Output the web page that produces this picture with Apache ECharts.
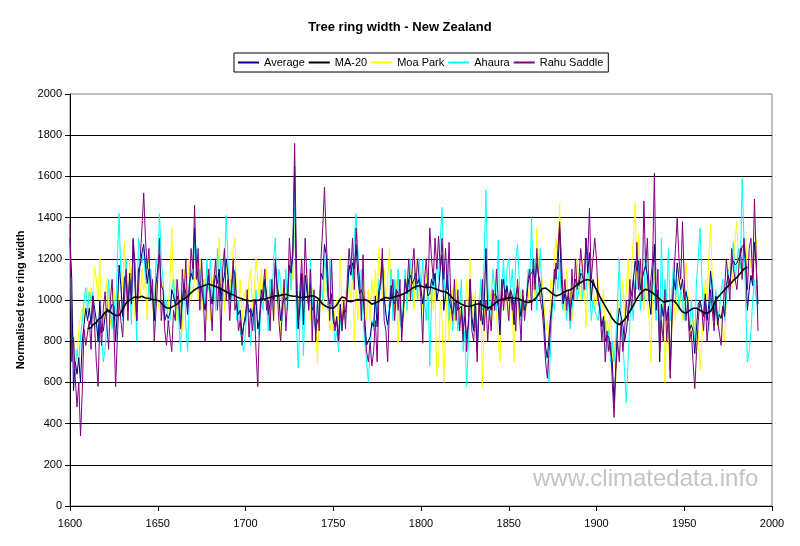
<!DOCTYPE html>
<html><head><meta charset="utf-8">
<script src="https://cdn.jsdelivr.net/npm/echarts@6/dist/echarts.min.js"></script>
<style>html,body{margin:0;padding:0;background:#fff}#c{width:800px;height:546px}</style>
</head><body><div id="c"></div>
<script>
// ---- data ----
const firstYear = 1600;      // first year of the annual series
const maFirstYear = 1610;    // first year of the 20-year moving average
const seriesNames = ['Average', 'MA-20', 'Moa Park', 'Ahaura', 'Rahu Saddle'];
const xTickLabels = [1600, 1650, 1700, 1750, 1800, 1850, 1900, 1950, 2000];
const yTickLabels = [0, 200, 400, 600, 800, 1000, 1200, 1400, 1600, 1800, 2000];

const average = [
1300,1100,560,700,640,720,600,800,880,960,
900,960,880,1020,960,900,800,1000,840,850,
920,960,940,950,980,970,800,960,1170,1070,
920,1110,1120,950,1130,980,1290,1080,900,1150,
1170,1230,1270,1170,1080,1150,1070,1030,900,1080,
1080,1220,1070,1050,900,930,910,940,1050,1020,
980,1020,980,870,1000,1080,1030,930,1080,1130,
1100,1350,1170,1100,1100,1050,1050,950,1050,1120,
1030,980,1070,1120,1080,1150,1000,1080,1120,1200,
1120,1000,1050,1150,1130,970,930,950,830,880,
930,1000,940,960,920,970,1000,860,910,1050,
1000,1100,1030,930,980,1050,1000,1180,1070,1020,
900,970,1020,1000,1020,1170,1130,1220,1650,1050,
860,970,1130,880,1120,1120,970,1080,950,970,
850,900,920,1130,1100,1270,1220,1020,980,1030,
900,870,920,800,980,880,950,940,1030,1170,
1120,1180,1150,1270,1120,1030,1050,1020,900,780,
780,820,890,870,1020,870,1050,1080,1200,1020,
930,880,950,1070,1000,980,1050,1030,1020,870,
950,1100,1030,1100,1120,1080,1100,1130,1080,1100,
1050,980,1050,1080,1020,1030,1100,1070,1130,1000,
1050,1150,1220,950,1030,1120,1000,1000,930,980,
1000,950,950,970,850,920,810,880,1100,920,
850,1000,750,950,1000,880,980,1250,950,970,
950,1030,1030,1020,970,830,1050,1100,1000,1070,
1000,1050,1020,880,1020,1070,980,920,1020,950,
980,1080,1120,1130,1150,1080,1180,1120,1080,1020,
920,770,720,720,930,1020,1100,1180,1150,1350,
1100,980,1030,1000,1020,940,1000,1050,1100,1080,
1070,1130,1120,1080,1300,1130,1230,1000,1100,1070,
1050,1000,950,870,920,800,830,820,820,700,
500,680,880,960,920,880,800,850,930,1000,
1030,1100,1190,1140,1190,1050,1100,1140,1170,1120,
1000,930,1130,1270,950,1050,700,980,920,980,
900,970,660,930,1100,1050,1180,1100,1050,1100,
1000,1040,1000,850,880,850,740,870,980,1000,
950,920,1030,900,980,1140,1050,900,1020,880,
930,910,970,920,1070,1120,1080,1170,1190,1170,
1180,1180,1220,1260,1270,1170,950,1050,1120,1070,1280,1170,980
];

const ma20 = [
860,855,865,880,875,890,905,900,915,930,
940,945,950,945,935,930,925,920,925,940,
955,970,985,995,1000,1005,1010,1015,1010,1012,
1015,1018,1012,1010,1010,1008,1005,1002,1000,1000,
1000,995,985,975,968,962,958,960,965,970,
975,980,988,995,1000,1005,1010,1018,1025,1035,
1042,1050,1055,1060,1062,1065,1068,1072,1075,1078,
1075,1072,1068,1065,1060,1058,1055,1050,1045,1040,
1035,1030,1028,1025,1020,1015,1010,1008,1005,1002,
1000,998,1000,995,998,1000,1002,998,1000,1003,
1000,1005,1008,1010,1012,1015,1018,1020,1022,1020,
1020,1025,1030,1028,1025,1022,1020,1018,1015,1018,
1015,1012,1010,1012,1010,1015,1018,1020,1022,1020,
1018,1010,1000,990,980,975,968,965,962,960,
960,965,975,990,1005,1015,1020,1010,995,990,
992,995,998,1000,1002,1000,998,1000,1002,1000,
995,988,980,982,985,990,995,1000,1005,1010,
1012,1010,1008,1010,1012,1015,1018,1020,1022,1025,
1030,1035,1040,1045,1050,1058,1062,1065,1068,1070,
1068,1065,1062,1060,1062,1065,1062,1058,1055,1050,
1048,1045,1042,1040,1040,1035,1028,1020,1010,1000,
995,990,985,980,975,972,970,968,970,972,
975,978,980,982,980,975,970,965,960,962,
968,975,982,990,995,1000,1002,1005,1005,1008,
1010,1012,1010,1008,1010,1008,1005,1000,995,992,
990,988,990,992,998,1005,1015,1030,1045,1055,
1060,1058,1052,1045,1038,1030,1025,1020,1022,1025,
1030,1035,1040,1045,1048,1050,1055,1060,1068,1075,
1080,1085,1090,1095,1098,1100,1098,1092,1080,1065,
1050,1035,1015,1000,985,970,955,940,925,910,
900,890,882,880,885,895,905,915,930,945,
960,975,990,1005,1020,1032,1042,1050,1052,1048,
1045,1040,1035,1028,1020,1012,1005,998,992,990,
992,995,998,1000,998,990,978,965,952,942,
938,936,940,948,955,960,962,960,955,950,
945,940,938,936,938,945,960,980,1000,1012,
1020,1030,1040,1050,1060,1068,1075,1085,1095,1102,
1110,1120,1130,1140,1150,1155,1160
];

const moaPark = [
1200,1000,820,760,700,860,920,960,900,1000,
1060,940,1060,1000,1160,1100,1000,1200,900,880,
960,1100,980,880,1000,1060,940,860,1100,1200,
1050,1280,1000,950,1200,1060,1150,920,1000,1100,
1000,1150,1050,1100,900,1200,1050,950,1000,1100,
1000,950,1100,1050,900,1000,950,1100,1350,1000,
1100,900,1050,1000,850,1150,1000,1100,1200,1000,
1050,1100,1150,1000,1200,950,1050,1100,900,1150,
900,1100,1000,1200,1050,1300,1000,1100,950,1200,
1050,1150,1000,1250,1300,1000,950,1100,900,1000,
1050,950,1100,1150,950,1050,1200,1100,1000,1150,
1000,1050,1150,950,1000,1100,900,1050,1150,1000,
800,1050,950,1000,1100,1000,1200,1100,1400,1050,
1000,950,1100,900,1050,1150,1000,900,1050,950,
900,690,1000,1100,950,1050,1200,1000,850,900,
850,950,1000,900,1200,950,900,1050,1000,1100,
1000,1150,800,1050,900,1000,1100,950,1050,900,
1050,900,1100,1000,1150,950,1250,1100,1000,1150,
1000,1100,1250,1050,1000,950,1100,790,1050,950,
900,1050,1100,1000,1150,1100,950,1200,1050,1000,
1100,950,1050,1150,900,1000,1100,950,1050,630,
700,1000,900,600,850,1100,800,950,1050,900,
1100,950,1050,850,1000,900,1100,950,1200,1000,
900,1050,800,950,1000,580,900,1200,950,1050,
1000,900,1100,950,800,700,1000,1150,950,1050,
900,1050,950,700,1000,1100,900,1050,950,1000,
950,1000,1100,1050,1200,1000,1350,1150,1000,1100,
1000,850,900,800,1100,1050,1200,1300,1150,1470,
1100,1000,950,1150,1000,1050,900,1100,1000,1200,
1050,1000,1200,1100,870,1050,1150,1000,1100,950,
1000,1100,900,950,1050,800,900,850,950,700,
800,600,850,1000,950,1100,900,1050,1200,1000,
1150,1300,1470,1100,1320,1000,1200,950,1100,1000,
900,700,1050,1150,950,1000,800,950,1000,600,
900,800,620,850,1000,900,1050,1150,1000,900,
1000,1180,1050,900,800,950,850,750,850,660,
800,950,1100,1000,1200,1370,1100,900,1000,850,
950,900,850,800,1000,1100,1200,1050,1150,1300,
1380,1150,1250,1100,1200,1300,1100,1150,1200,1100,1250,1300,1150
];

const ahaura = [
1180,900,780,680,760,700,820,900,1000,1060,
940,1040,1000,1040,860,900,800,940,820,700,
760,900,1100,980,860,1000,900,1200,1420,1100,
900,1050,1200,1000,1100,880,1250,1150,800,1300,
1300,1180,1250,1100,1200,1000,1150,1050,900,1200,
1150,1420,1200,1100,950,1000,880,900,1050,1100,
950,1050,900,750,1000,1100,880,750,1000,1150,
1100,1300,1250,1050,1150,1000,1100,950,1200,1050,
1200,1000,1100,950,1250,1050,1200,1000,1150,1410,
1200,950,1100,1000,1150,900,1000,850,800,750,
850,1000,900,780,950,850,1050,900,820,1000,
950,1100,1000,850,1100,950,1200,1300,1000,1150,
1100,900,1000,1150,950,1200,1050,1300,1450,900,
670,900,1100,730,1000,1100,950,1200,1000,900,
850,1000,900,1100,1000,1200,1150,950,1200,1000,
900,800,850,750,900,850,950,900,1000,1150,
1200,1100,1300,1420,1250,1000,1150,900,800,700,
600,750,900,850,1000,950,1100,1050,1150,1000,
950,850,1000,1150,900,1100,1000,1150,900,850,
1000,1150,950,1100,1200,1000,1100,1150,1000,1200,
1050,1200,1000,900,1100,680,1000,1150,1050,1200,
1100,1300,1450,1150,1000,1200,900,1050,850,950,
1000,850,950,1100,750,850,580,800,1000,900,
850,1000,750,900,1100,950,1200,1534,1100,900,
1000,1150,1050,950,1290,900,1050,1200,1000,1150,
1200,1050,1150,950,1200,1270,1100,900,1050,950,
1000,1150,1100,1400,1050,1200,950,1100,1250,1000,
900,750,700,600,800,1000,950,1150,1050,1200,
1000,950,1050,900,1000,860,950,1050,1100,1000,
1050,1150,1000,1100,1050,1150,1100,900,1000,950,
950,900,1000,850,800,900,750,850,700,800,
700,800,1000,1200,900,800,650,500,700,900,
1000,900,1100,1050,1200,950,1100,1000,1250,1050,
1100,1000,1150,1050,900,1000,850,1300,950,1100,
1000,1250,900,1050,1200,1000,1100,950,1050,1000,
900,1050,950,850,1000,900,800,1100,1200,1350,
1100,950,1000,900,850,1000,1100,950,1050,900,
950,1050,1100,900,1000,1150,1050,1200,1280,1100,
1100,1250,1150,1590,1300,1000,700,750,850,1000,1100,1000,950
];

const rahuSaddle = [
1370,700,820,620,480,600,340,560,860,780,
840,900,760,1020,880,700,580,900,780,960,
1040,880,760,1000,1100,860,580,820,1000,900,
820,1000,1150,900,1100,1000,1300,1180,900,1050,
1200,1350,1520,1300,1150,1250,1000,1100,800,950,
1100,1300,900,1000,850,780,900,820,750,950,
900,1100,1000,860,1150,1000,1200,950,1050,1250,
1150,1460,1100,1250,950,1200,1000,800,1050,1150,
1000,850,1100,1200,950,1100,800,1150,1250,1000,
1100,900,1050,1200,950,1000,850,900,780,880,
900,1050,820,950,850,1000,750,580,900,1000,
1050,1150,950,1000,850,1100,900,1200,1050,900,
800,950,1100,850,1000,1300,1150,1250,1760,1200,
900,1050,1200,1000,1300,1100,950,1150,800,1050,
800,1000,850,1200,1350,1548,1300,1100,900,1200,
950,850,900,800,950,850,1000,860,1100,1250,
1150,1300,1050,1350,1200,1100,900,1220,850,750,
700,800,680,750,900,700,1000,1100,1250,900,
850,700,950,1000,1100,900,1050,950,1100,800,
950,1100,1050,1200,1000,1150,1250,1050,1200,1100,
1000,790,1100,1200,1050,1350,1200,1100,1300,1150,
1310,1150,1300,1100,1250,1050,1280,1000,900,1100,
900,1050,850,950,800,1000,750,900,1100,850,
800,950,700,1000,900,1100,850,1000,800,950,
850,1050,950,1150,1000,900,1100,950,1050,1000,
900,1050,950,1000,850,1100,950,800,1050,900,
1000,1100,1150,950,1200,1050,1250,1100,1000,950,
850,700,620,750,900,1000,1150,1100,1250,1380,
1200,1000,1100,950,1050,900,1150,1000,1200,1050,
1100,1250,1150,1050,1300,1200,1446,1100,1200,1300,
1200,1000,950,800,900,700,850,750,800,600,
430,650,800,700,900,750,850,1000,900,1100,
950,1100,1000,1280,1050,1200,1000,1480,1150,1300,
1000,1100,1200,1616,1000,1150,750,900,800,1050,
800,950,620,900,1100,1250,1400,1200,1100,1380,
1100,900,1000,800,850,700,570,750,900,1000,
950,850,1000,800,900,1050,950,850,1000,900,
900,780,950,1050,1200,1100,1000,1250,1150,1100,
1050,1150,1250,1100,1300,1200,1050,1250,1300,1100,1490,1200,850
];

// ---- chart ----
const FONT = '"Liberation Sans", Arial, sans-serif';
const toPairs = (arr, y0) => arr.map((v, i) => [y0 + i, v]);

const chart = echarts.init(document.getElementById('c'), null, { renderer: 'canvas' });

const colors = ['#000080', '#000000', '#ffff00', '#00ffff', '#800080'];
const dataSets = [toPairs(average, firstYear), toPairs(ma20, maFirstYear), toPairs(moaPark, firstYear), toPairs(ahaura, firstYear), toPairs(rahuSaddle, firstYear)];
const zs = [4, 6, 2, 3, 5];
const widths = [1, 1.6, 1, 1, 1];

chart.setOption({
  animation: false,
  backgroundColor: '#ffffff',
  title: {
    text: 'Tree ring width - New Zealand',
    left: 'center', top: 16,
    textStyle: { fontFamily: FONT, fontSize: 13, fontWeight: 'bold', color: '#000' }
  },
  legend: {
    data: seriesNames.map((n, i) => ({ name: n, icon: 'rect', itemStyle: { color: colors[i] } })),
    left: 234, top: 53,
    itemWidth: 21, itemHeight: 2, itemGap: 4,
    padding: [4, 5, 4, 4],
    borderColor: '#000', borderWidth: 1,
    textStyle: { fontFamily: FONT, fontSize: 11, color: '#000' }
  },
  grid: {
    left: 70, right: 28, top: 94, bottom: 40,
    show: true, borderColor: '#808080', borderWidth: 1, backgroundColor: '#fff',
    outerBoundsMode: 'none'
  },
  xAxis: {
    type: 'value', min: xTickLabels[0], max: xTickLabels[xTickLabels.length - 1], interval: 50,
    axisLine: { show: true, onZero: false, lineStyle: { color: '#000', width: 1 } },
    axisTick: { show: true, length: 5, lineStyle: { color: '#000' } },
    axisLabel: { color: '#000', fontFamily: FONT, fontSize: 11, margin: 12, formatter: v => String(v) },
    splitLine: { show: false }
  },
  yAxis: {
    type: 'value', min: yTickLabels[0], max: yTickLabels[yTickLabels.length - 1], interval: 200,
    name: 'Normalised tree ring width', nameLocation: 'middle', nameGap: 36,
    nameTextStyle: { fontFamily: FONT, fontSize: 11, fontWeight: 'bold', color: '#000' },
    axisLine: { show: true, lineStyle: { color: '#000', width: 1 } },
    axisTick: { show: true, length: 5, lineStyle: { color: '#000' } },
    axisLabel: { color: '#000', fontFamily: FONT, fontSize: 11, margin: 8, formatter: v => String(v) },
    splitLine: { show: true, showMaxLine: false, lineStyle: { color: '#000', width: 1 } }
  },
  graphic: [{
    type: 'text', left: 533, top: 467, silent: true, z: 100,
    style: { text: 'www.climatedata.info', fill: '#c4c4c4', font: '24px "Liberation Sans", Arial, sans-serif' }
  }],
  series: seriesNames.map((name, i) => ({
    name, type: 'line', data: dataSets[i], z: zs[i],
    showSymbol: false, symbol: 'none', smooth: false,
    lineStyle: { color: colors[i], width: widths[i] },
    itemStyle: { color: colors[i] },
    emphasis: { disabled: true }
  }))
});
</script>
</body></html>
